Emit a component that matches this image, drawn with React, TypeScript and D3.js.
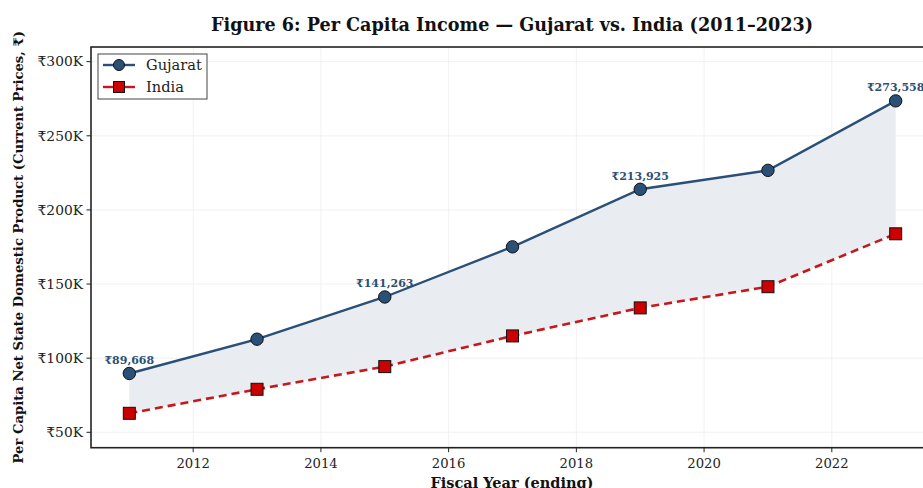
import React from "react";
import * as d3 from "d3";

const years = [2011, 2013, 2015, 2017, 2019, 2021, 2023];
const gujarat = [89668, 112800, 141263, 175100, 213925, 226700, 273558];
const india = [62800, 79000, 94300, 115000, 133900, 148200, 183900];
const labelYears = [2011, 2015, 2019, 2023];
const xTicks = [2012, 2014, 2016, 2018, 2020, 2022];
const yTicks = [50000, 100000, 150000, 200000, 250000, 300000];

const W = 923;
const H = 488;
const M = { left: 91, top: 47, right: 934, bottom: 447.7 };
const FONT = "'DejaVu Serif', serif";
const BLUE = "#2a5078";
const RED = "#c8161d";

export default function App() {
  const x = d3.scaleLinear().domain([2010.4, 2023.6]).range([M.left, M.right]);
  const y = d3.scaleLinear().domain([39600, 309900]).range([M.bottom, M.top]);

  const pts = years.map((yr, i) => ({ yr, g: gujarat[i], n: india[i] }));
  const lineG = d3.line<any>().x((d) => x(d.yr)).y((d) => y(d.g))(pts) as string;
  const lineI = d3.line<any>().x((d) => x(d.yr)).y((d) => y(d.n))(pts) as string;
  const area = d3
    .area<any>()
    .x((d) => x(d.yr))
    .y0((d) => y(d.n))
    .y1((d) => y(d.g))(pts) as string;

  const fmt = (v: number) => "₹" + d3.format(",")(v);

  return (
    <svg width={W} height={H} style={{ position: "absolute", left: 0, top: 0, background: "#fff" }}>
      <rect width={W} height={H} fill="#fff" />
      <text x={512} y={31} textAnchor="middle" fontFamily={FONT} fontWeight="bold" fontSize={17.6} fill="#111">
        Figure 6: Per Capita Income — Gujarat vs. India (2011–2023)
      </text>
      {/* grid */}
      {xTicks.map((t) => (
        <line key={"gx" + t} x1={x(t)} x2={x(t)} y1={M.top} y2={M.bottom} stroke="#eee" strokeWidth={0.8} />
      ))}
      {yTicks.map((t) => (
        <line key={"gy" + t} x1={M.left} x2={M.right} y1={y(t)} y2={y(t)} stroke="#eee" strokeWidth={0.8} />
      ))}
      <path d={area} fill="#e9edf1" />
      <path d={lineI} fill="none" stroke={RED} strokeWidth={2.6} strokeDasharray="8,5" />
      <path d={lineG} fill="none" stroke={BLUE} strokeWidth={2.4} />
      {pts.map((d) => (
        <rect
          key={"s" + d.yr}
          x={x(d.yr) - 6}
          y={y(d.n) - 6}
          width={12}
          height={12}
          fill="#cc0000"
          stroke="#111"
          strokeWidth={1}
        />
      ))}
      {pts.map((d) => (
        <circle key={"c" + d.yr} cx={x(d.yr)} cy={y(d.g)} r={6.2} fill={BLUE} stroke="#111" strokeWidth={1} />
      ))}
      {pts
        .filter((d) => labelYears.includes(d.yr))
        .map((d) => (
          <text
            key={"l" + d.yr}
            x={x(d.yr)}
            y={y(d.g) - 9.5}
            textAnchor="middle"
            fontFamily={FONT}
            fontWeight="bold"
            fontSize={11}
            fill={BLUE}
          >
            {fmt(d.g)}
          </text>
        ))}
      {/* axes frame */}
      <rect x={M.left} y={M.top} width={M.right - M.left} height={M.bottom - M.top} fill="none" stroke="#222" strokeWidth={1.6} />
      {xTicks.map((t) => (
        <g key={"xt" + t}>
          <line x1={x(t)} x2={x(t)} y1={M.bottom} y2={M.bottom + 4.5} stroke="#222" strokeWidth={1} />
          <text x={x(t)} y={468} textAnchor="middle" fontFamily={FONT} fontSize={13.2} fill="#222">
            {t}
          </text>
        </g>
      ))}
      {yTicks.map((t) => (
        <g key={"yt" + t}>
          <line x1={M.left - 4.5} x2={M.left} y1={y(t)} y2={y(t)} stroke="#222" strokeWidth={1} />
          <text x={M.left - 8} y={y(t) + 4.8} textAnchor="end" fontFamily={FONT} fontSize={13.8} fill="#222">
            {"₹" + t / 1000 + "K"}
          </text>
        </g>
      ))}
      <text
        transform={`translate(23,${(M.top + M.bottom) / 2}) rotate(-90)`}
        textAnchor="middle"
        fontFamily={FONT}
        fontWeight="bold"
        fontSize={13.2}
        fill="#111"
      >
        Per Capita Net State Domestic Product (Current Prices, ₹)
      </text>
      <text x={512} y={488} textAnchor="middle" fontFamily={FONT} fontWeight="bold" fontSize={14.5} fill="#111">
        Fiscal Year (ending)
      </text>
      {/* legend */}
      <g>
        <rect x={98} y={54} width={109} height={45} fill="#fff" stroke="#444" strokeWidth={1} />
        <line x1={103} x2={135} y1={65} y2={65} stroke={BLUE} strokeWidth={2.4} />
        <circle cx={119} cy={65} r={5.5} fill={BLUE} stroke="#111" strokeWidth={1} />
        <text x={146} y={70} fontFamily={FONT} fontSize={14.6} fill="#222">Gujarat</text>
        <line x1={103} x2={135} y1={87} y2={87} stroke={RED} strokeWidth={2.4} />
        <rect x={113.5} y={81.5} width={11} height={11} fill="#cc0000" stroke="#111" strokeWidth={1} />
        <text x={146} y={92} fontFamily={FONT} fontSize={14.6} fill="#222">India</text>
      </g>
    </svg>
  );
}
